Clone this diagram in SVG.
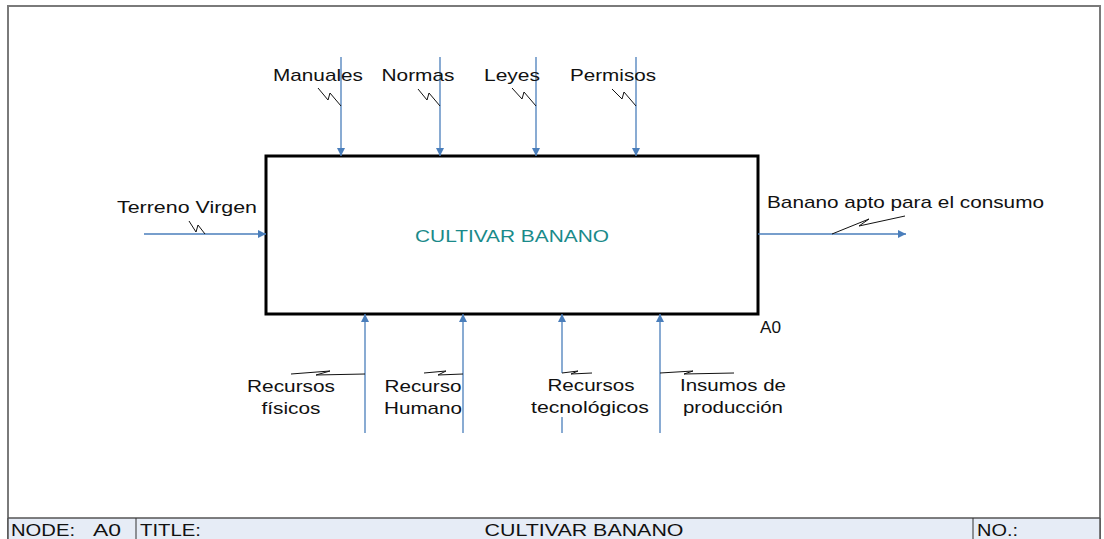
<svg xmlns="http://www.w3.org/2000/svg" width="1104" height="539" viewBox="0 0 1104 539">
  <defs>
    <marker id="arrow" viewBox="0 0 10 10" refX="10" refY="5" markerWidth="10" markerHeight="8" markerUnits="userSpaceOnUse" orient="auto">
      <path d="M0,0 L10,5 L0,10 z" fill="#4a7ebb"/>
    </marker>
  </defs>
  <style>
    text { font-family: "Liberation Sans", Arial, sans-serif; font-size: 17px; fill: #111; }
    .arr { stroke: #4a7ebb; stroke-width: 1.3; fill: none; }
    .sq { stroke: #111; stroke-width: 1; fill: none; }
    .frame { stroke: #7a7a7a; stroke-width: 2; fill: none; }
  </style>
  <rect width="1104" height="539" fill="#ffffff"/>

  <!-- sheet frame -->
  <g id="frame">
    <path class="frame" d="M8,539 L8,6 L1100,6 L1100,539"/>
    <rect x="8" y="518" width="1092" height="21" fill="#e6ecf6"/>
    <line x1="8" y1="518" x2="1100" y2="518" stroke="#555" stroke-width="1.5"/>
    <line x1="136" y1="518" x2="136" y2="539" stroke="#333" stroke-width="1"/>
    <line x1="973" y1="518" x2="973" y2="539" stroke="#333" stroke-width="1"/>
    <line x1="8" y1="518" x2="8" y2="539" stroke="#555" stroke-width="1.5"/>
    <line x1="1100" y1="518" x2="1100" y2="539" stroke="#555" stroke-width="1.5"/>
    <text x="11" y="536" textLength="64" lengthAdjust="spacingAndGlyphs">NODE:</text>
    <text x="93" y="536" textLength="28" lengthAdjust="spacingAndGlyphs">A0</text>
    <text x="140" y="536" textLength="61" lengthAdjust="spacingAndGlyphs">TITLE:</text>
    <text x="584" y="536" text-anchor="middle" textLength="199" lengthAdjust="spacingAndGlyphs">CULTIVAR BANANO</text>
    <text x="977" y="536" textLength="41" lengthAdjust="spacingAndGlyphs">NO.:</text>
  </g>

  <!-- activity box -->
  <g id="A0">
    <rect x="266" y="156" width="492" height="158" fill="#ffffff" stroke="#000" stroke-width="3"/>
    <text x="512" y="242" text-anchor="middle" textLength="194" lengthAdjust="spacingAndGlyphs" style="fill:#1a8a8a">CULTIVAR BANANO</text>
    <text x="760" y="333" textLength="21" lengthAdjust="spacingAndGlyphs">A0</text>
  </g>

  <!-- arrows and squiggles -->
  <g id="connectors">
    <!-- controls -->
    <line class="arr" x1="341" y1="57" x2="341" y2="156" marker-end="url(#arrow)"/>
    <line class="arr" x1="440" y1="57" x2="440" y2="156" marker-end="url(#arrow)"/>
    <line class="arr" x1="536" y1="57" x2="536" y2="156" marker-end="url(#arrow)"/>
    <line class="arr" x1="636" y1="57" x2="636" y2="156" marker-end="url(#arrow)"/>
    <!-- input -->
    <line class="arr" x1="144" y1="234" x2="266" y2="234" marker-end="url(#arrow)"/>
    <!-- output -->
    <line class="arr" x1="758" y1="234" x2="906" y2="234" marker-end="url(#arrow)"/>
    <!-- mechanisms -->
    <line class="arr" x1="365" y1="433" x2="365" y2="314" marker-end="url(#arrow)"/>
    <line class="arr" x1="463" y1="433" x2="463" y2="314" marker-end="url(#arrow)"/>
    <line class="arr" x1="562" y1="373" x2="562" y2="314" marker-end="url(#arrow)"/>
    <line class="arr" x1="562" y1="417" x2="562" y2="433"/>
    <line class="arr" x1="660" y1="433" x2="660" y2="314" marker-end="url(#arrow)"/>

    <path class="sq" d="M318,88 L328,100 L330,93 L341,106"/>
    <path class="sq" d="M418,89 L427,100 L429,93 L440,106"/>
    <path class="sq" d="M512,88 L522,99 L524,92 L536,106"/>
    <path class="sq" d="M612,89 L622,99 L624,92 L636,106"/>
    <path class="sq" d="M189,221 L196,232 L198,225 L205,234"/>
    <path class="sq" d="M832,234 L869,219 L859,226 L905,216"/>
    <path class="sq" d="M291,374 L330,371 L316,375 L365,374"/>
    <path class="sq" d="M424,373 L446,371 L438,375 L463,374"/>
    <path class="sq" d="M562,373 L578,371 L571,374 L592,373"/>
    <path class="sq" d="M660,373 L693,371 L684,374 L734,373"/>
  </g>

  <!-- arrow labels -->
  <g id="labels">
    <text x="318" y="81" text-anchor="middle" textLength="90" lengthAdjust="spacingAndGlyphs">Manuales</text>
    <text x="418" y="81" text-anchor="middle" textLength="73" lengthAdjust="spacingAndGlyphs">Normas</text>
    <text x="512" y="81" text-anchor="middle" textLength="56" lengthAdjust="spacingAndGlyphs">Leyes</text>
    <text x="613" y="81" text-anchor="middle" textLength="86" lengthAdjust="spacingAndGlyphs">Permisos</text>
    <text x="187" y="213" text-anchor="middle" textLength="140" lengthAdjust="spacingAndGlyphs">Terreno Virgen</text>
    <text x="767" y="208" textLength="277" lengthAdjust="spacingAndGlyphs">Banano apto para el consumo</text>
    <text x="291" y="392" text-anchor="middle" textLength="88" lengthAdjust="spacingAndGlyphs">Recursos</text>
    <text x="291" y="414" text-anchor="middle" textLength="59" lengthAdjust="spacingAndGlyphs">físicos</text>
    <text x="423" y="392" text-anchor="middle" textLength="77" lengthAdjust="spacingAndGlyphs">Recurso</text>
    <text x="423" y="414" text-anchor="middle" textLength="78" lengthAdjust="spacingAndGlyphs">Humano</text>
    <text x="591" y="391" text-anchor="middle" textLength="87" lengthAdjust="spacingAndGlyphs">Recursos</text>
    <text x="590" y="413" text-anchor="middle" textLength="118" lengthAdjust="spacingAndGlyphs">tecnológicos</text>
    <text x="733" y="391" text-anchor="middle" textLength="106" lengthAdjust="spacingAndGlyphs">Insumos de</text>
    <text x="733" y="413" text-anchor="middle" textLength="100" lengthAdjust="spacingAndGlyphs">producción</text>
  </g>
</svg>
